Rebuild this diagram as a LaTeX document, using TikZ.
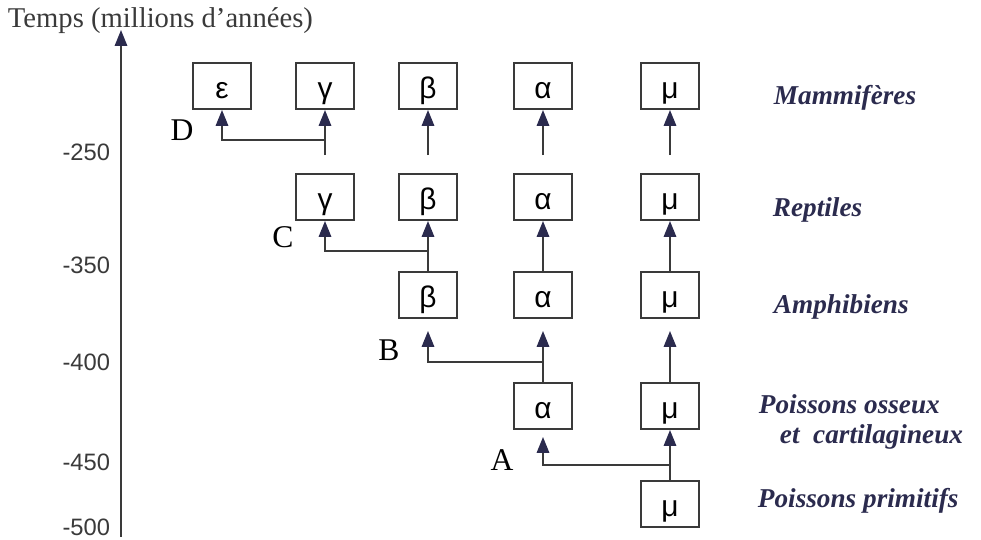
\documentclass[tikz,border=0pt]{standalone}
\usepackage{fontspec}
\setmainfont{Liberation Serif}
\newfontfamily\greekfont{Liberation Sans}
\usepackage{tikz}
\usetikzlibrary{arrows.meta}
\definecolor{ink}{HTML}{2B2B4E}
\definecolor{pencil}{HTML}{3A3A3A}

\begin{document}
\begin{tikzpicture}[->,>={Triangle[width=7pt,length=9pt,color=ink]},
                    x=0.02cm,y=-0.02cm,line width=1.1pt,draw=pencil]
\tikzstyle{every node}=[]
\tikzstyle{box}=[draw=pencil,line width=1.1pt,minimum width=1.16cm,
                 minimum height=0.92cm,inner sep=0pt,
                 text height=14pt,text depth=0pt,
                 font=\greekfont\fontsize{17}{17}\selectfont]
\tikzstyle{tick}=[anchor=east,inner sep=0pt,text=pencil,
                  font=\greekfont\fontsize{13.5}{13.5}\selectfont]
\tikzstyle{group}=[anchor=west,inner sep=0pt,text=ink,align=left,
                   font=\bfseries\itshape\fontsize{15.5}{17}\selectfont]
\tikzstyle{letterlab}=[inner sep=0pt,font=\fontsize{18}{18}\selectfont]
\useasboundingbox (0,0) rectangle (981,540);

% time axis
\coordinate (AXLOW) at (121,537);
\coordinate (AXTOP) at (121,30);
\draw[line width=1pt] (AXLOW) -- (AXTOP);
\node[anchor=west,inner sep=0pt,text=pencil,font=\fontsize{16.3}{16}\selectfont]
  (TITLE) at (7,21) {Temps (millions d'années)};
\foreach \val/\ypos in {-250/152,-350/265,-400/362,-450/462,-500/527}
  \node[tick] (TICK\val) at (111,\ypos) {\val};

% Mammiferes
\node[box] (EPS1) at (222,86) {ε};
\node[box] (GAM1) at (325,86) {γ};
\node[box] (BET1) at (428,86) {β};
\node[box] (ALP1) at (543,86) {α};
\node[box] (MU1)  at (670,86) {μ};
% Reptiles
\node[box] (GAM2) at (325,197) {γ};
\node[box] (BET2) at (428,197) {β};
\node[box] (ALP2) at (543,197) {α};
\node[box] (MU2)  at (670,197) {μ};
% Amphibiens
\node[box] (BET3) at (428,295) {β};
\node[box] (ALP3) at (543,295) {α};
\node[box] (MU3)  at (670,295) {μ};
% Poissons osseux
\node[box] (ALP4) at (543,406) {α};
\node[box] (MU4)  at (670,406) {μ};
% Poissons primitifs
\node[box] (MU5)  at (670,504) {μ};

\node[group] (MAM) at (773,98) {Mammifères};
\node[group] (REP) at (772,210) {Reptiles};
\node[group] (AMP) at (773,307) {Amphibiens};
\node[group] (OSS) at (758,422) {Poissons osseux\\\hspace*{0.42cm}et\ \ cartilagineux};
\node[group] (PRI) at (757,501) {Poissons primitifs};

\node[letterlab] (LA) at (502,460) {A};
\node[letterlab] (LB) at (389,350) {B};
\node[letterlab] (LC) at (283,237) {C};
\node[letterlab] (LD) at (182,130) {D};

% branchings
\coordinate (JA) at (670,465);
\coordinate (JB) at (543,362);
\coordinate (JC) at (428,251);
\coordinate (JD) at (325,140);

\draw (MU5.north) -- (MU4.south);
\draw[shorten >=0.14cm] (JA) -| (ALP4.south);

\draw[shorten >=0.24cm] (ALP4.north) -- (ALP3.south);
\draw[shorten >=0.24cm] (JB) -| (BET3.south);
\draw[shorten >=0.24cm] (MU4.north) -- (MU3.south);

\draw (BET3.north) -- (BET2.south);
\draw (JC) -| (GAM2.south);
\draw (ALP3.north) -- (ALP2.south);
\draw (MU3.north) -- (MU2.south);

\draw[shorten <=0.36cm] (GAM2.north) -- (GAM1.south);
\draw (JD) -| (EPS1.south);
\draw[shorten <=0.36cm] (BET2.north) -- (BET1.south);
\draw[shorten <=0.36cm] (ALP2.north) -- (ALP1.south);
\draw[shorten <=0.36cm] (MU2.north) -- (MU1.south);
\end{tikzpicture}
\end{document}
